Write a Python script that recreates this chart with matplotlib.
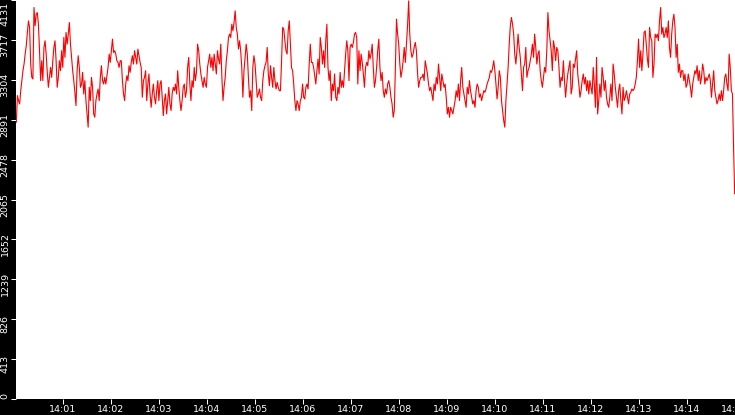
import matplotlib
matplotlib.use("Agg")
import matplotlib.pyplot as plt
import matplotlib.dates as mdates
import matplotlib.transforms as mtrans
import pandas as pd

# values, left to right
seg_a = [2865, 3141, 3089, 3055, 3192, 3296, 3399, 3468, 3571, 3657, 3795, 3915, 3847, 3468, 3330, 3313,
         4053, 3864, 3984, 4001, 3881, 3606, 3296, 3502, 3296, 3640, 3709, 3571, 3382, 3227, 3330, 3433,
         3330, 3502, 3640, 3709, 3502, 3227, 3330, 3502, 3399, 3606, 3433, 3743, 3537, 3795, 3674, 3778,
         3898, 3674, 3537, 3399, 3296, 3175, 3037, 3399, 3554, 3433, 3227, 3261, 3382, 3158, 3296, 3089,
         2951, 2814, 3227, 3089, 3330, 3227, 2951, 2917, 3089, 3158, 3210, 3089, 3330, 3451, 3296, 3261,
         3330, 3261, 3347, 3433, 3571, 3485, 3606, 3726, 3588, 3606, 3571, 3502, 3485, 3433, 3502, 3502,
         3296, 3158, 3089, 3261, 3347, 3296, 3451, 3382, 3485, 3554, 3468, 3606, 3537, 3468, 3623, 3554,
         3485, 3433, 3124, 3296, 3330, 3399, 3089, 3261, 3365, 3158, 3020, 3158, 3261, 3124, 3055, 3192,
         3296, 3089, 3261, 3296, 3124, 2934, 3089, 3158, 2951, 3089, 3227, 3055, 2986, 3158, 3227, 3192,
         3261, 3158, 3399, 3227, 3089, 2986, 3089, 3227, 3261, 3124, 3192, 3433, 3537, 3261, 3089, 3296,
         3227, 3433, 3296, 3382, 3674, 3606, 3468, 3365, 3296, 3227, 3330, 3261, 3227, 3433, 3502, 3571,
         3433, 3537, 3399, 3571, 3468, 3365, 3606, 3520, 3468, 3674, 3330, 3089, 3227, 3330, 3502, 3606,
         3743, 3778, 3743, 3881, 3812, 3898, 4019, 3847, 3778, 3623, 3709, 3606, 3433, 3124, 3399, 3537,
         3674]
seg_b = [3571, 3330, 3124, 3192, 2986, 3433, 3554, 3468, 3296, 3124, 3158, 3210, 3124, 3089, 3296, 3399,
         3451, 3485, 3640, 3365, 3244, 3451, 3330, 3227, 3433, 3296, 3210, 3278, 3227, 3192, 3192, 3502,
         3847, 3829, 3709, 3606, 3571, 3812, 3915, 3674, 3433, 3399, 3261, 3089, 2986, 3089, 3055, 2986,
         3089, 3124, 3261, 3124, 3106, 3227, 3261, 3210, 3468, 3674, 3485, 3485, 3433, 3347, 3261, 3399,
         3520, 3365, 3743, 3640, 3468, 3606, 3433, 3709, 3881, 3433, 3296, 3399, 3089, 3261, 3192, 3365,
         3124, 3089, 3227, 3158, 3382, 3227, 3296, 3227, 3399, 3571, 3709, 3606, 3296, 3640, 3674]
seg_c = [3640, 3692, 3778, 3795, 3743, 3261, 3606, 3399, 3571, 3485, 3365, 3227, 3433, 3485, 3451, 3606,
         3520, 3571, 3674, 3433, 3227, 3296, 3433, 3606, 3726, 3433, 3296, 3382, 3192, 3124, 3210, 3158,
         3261, 3296, 3227, 3124, 3055, 2917, 2986, 3433, 3933, 3778, 3674, 3468, 3330, 3399, 3502, 3640,
         3485, 3674, 3864, 4122, 3778, 3606, 3537, 3571, 3640, 3692, 3606, 3382, 3227, 3296, 3330, 3330,
         3365, 3296, 3502, 3433, 3365, 3261, 3192, 3227, 3158, 3089, 3261, 3192, 3330, 3261, 3468, 3330,
         3192, 3365, 3296, 3227, 3261, 3124, 2951, 3020, 2917, 3020]
seg_d = [2986, 2951, 3020, 3089, 3192, 3124, 3261, 3089, 3296, 3433, 3227, 3158, 3089, 3020, 3227, 3158,
         3296, 3192, 3124, 3055, 3089, 3020, 3192, 3261, 3227, 3124, 3158, 3089, 3141, 3192, 3175, 3210,
         3261, 3296, 3330, 3399, 3382, 3433, 3502, 3399, 3261, 3106, 3227, 3399, 3330, 3089, 2986, 2883,
         2814, 3089, 3261, 3433, 3674, 3864, 3950, 3881, 3778, 3571, 3468, 3606, 3778, 3640, 3537, 3365,
         3192, 3433, 3468, 3640, 3330, 3399, 3433, 3502, 3571, 3674, 3537, 3778, 3640, 3468, 3571, 3606,
         3399, 3296, 3227, 3330, 3433, 3382, 3606, 4001, 3812, 3709, 3606, 3399, 3709, 3640, 3502]
seg_e = [3640, 3606, 3433, 3227, 3330, 3296, 3502, 3296, 3124, 3261, 3365, 3433, 3502, 3158, 3227, 3468,
         3433, 3520, 3606, 3365, 3261, 3124, 3192, 3296, 3365, 3261, 3330, 3192, 3296, 3158, 3296, 3227,
         3158, 3433, 3261, 3020, 3537, 2951, 3089, 3261, 3124, 3433, 3330, 3192, 3296, 3124, 3055, 3020,
         3124, 3261, 3089, 3468, 3365, 3227, 3124, 3020, 3192, 3261, 3089, 2951, 3227, 3089, 3124, 3192,
         3124, 3055, 3158, 3175, 3210, 3192, 3210, 3261, 3330, 3502, 3726, 3433, 3606, 3399, 3571, 3795,
         3812, 3674, 3520, 3433, 3847, 3743, 3709, 3330, 3468, 3778, 3743, 3778, 3709, 3915, 4053, 3778,
         3847, 3743, 3778, 3847, 3743, 3915, 3640, 3537, 3778, 3915, 3984, 3847, 3537, 3674, 3382, 3468,
         3330, 3399, 3399, 3296, 3365, 3227, 3261, 3365, 3296, 3227, 3124, 3261, 3330, 3399, 3365, 3451,
         3296, 3399, 3261, 3330, 3468, 3399, 3261, 3330, 3296, 3330, 3365, 3296, 3124, 3261, 3399, 3192,
         3124, 3055, 3089, 3158, 3089, 3192, 3089, 3192, 3330, 3365, 3261, 3192, 3571, 3433, 3192, 3158,
         2607, 2125]
values = seg_a + seg_b + seg_c + seg_d + seg_e

t_start = "2024-01-01 14:00:02"
t_end = "2024-01-01 14:15:00"
times = pd.date_range(t_start, t_end, periods=len(values))

yticks = [0, 413, 826, 1239, 1652, 2065, 2478, 2891, 3304, 3717, 4131]
ylabels = ["0", "413", "826", "1239", "1652", "2065", "2478", "2891", "3304", "3717", "4131"]

fig = plt.figure(figsize=(7.35, 4.15), dpi=100, facecolor="black")
ax = fig.add_axes([16 / 735, 16 / 415, 719 / 735, 399 / 415])
ax.set_facecolor("white")
ax.plot(times, values, color="#ff0000", lw=0.8)

ax.set_xlim(pd.Timestamp("2024-01-01 14:00:01.6"), pd.Timestamp("2024-01-01 14:15:00.4"))
ax.set_ylim(0, 4124)
ax.xaxis.set_major_locator(mdates.MinuteLocator())
ax.xaxis.set_major_formatter(mdates.DateFormatter("%H:%M"))
ax.set_yticks(yticks)
ax.set_yticklabels(ylabels, rotation=90, va="center")

for s in ax.spines.values():
    s.set_visible(False)
ax.tick_params(colors="white", direction="out", length=3.6, width=0.75, labelsize=6.8, pad=1)

# rotated y labels sit a little below their ticks in the original
shift = mtrans.ScaledTranslation(0, -5 / 100, fig.dpi_scale_trans)
labs = ax.get_yticklabels()
for i, lab in enumerate(labs):
    if i == 0:
        lab.set_va("bottom")
    elif i == len(labs) - 1:
        lab.set_va("top")
        lab.set_transform(lab.get_transform() + mtrans.ScaledTranslation(0, -2 / 100, fig.dpi_scale_trans))
    else:
        lab.set_transform(lab.get_transform() + shift)

fig.savefig("out.png", dpi=100, facecolor="black")
